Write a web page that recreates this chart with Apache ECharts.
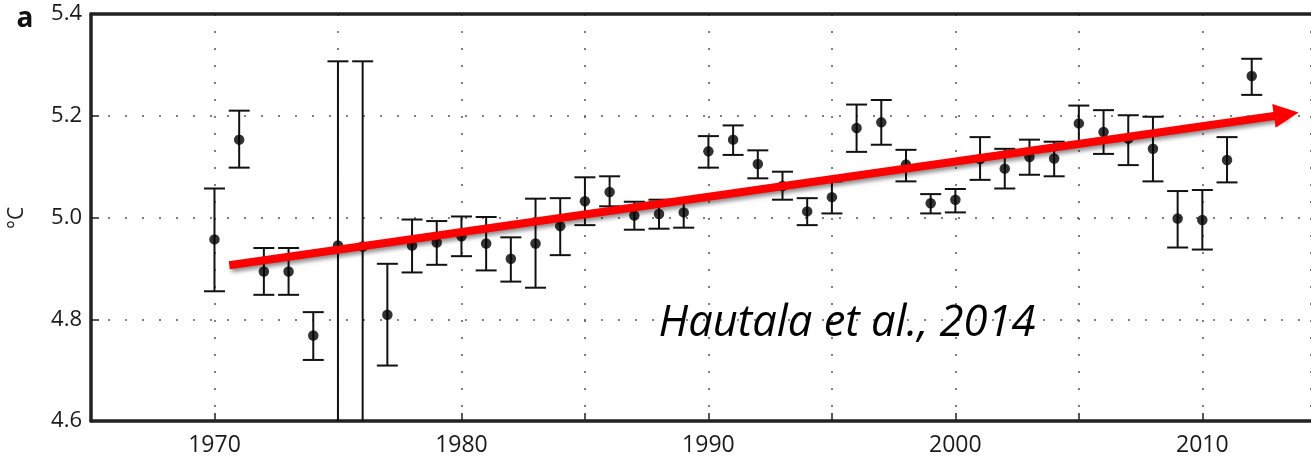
<!DOCTYPE html>
<html>
<head>
<meta charset="utf-8">
<script src="https://cdn.jsdelivr.net/npm/echarts@6/dist/echarts.min.js"></script>
<style>
html,body{margin:0;padding:0;background:#fff;}
#chart{width:1311px;height:461px;}
</style>
</head>
<body>
<div id="chart"></div>
<script>
const years = [1970,1971,1972,1973,1974,1975,1976,1977,1978,1979,1980,1981,1982,1983,1984,1985,1986,1987,1988,1989,1990,1991,1992,1993,1994,1995,1996,1997,1998,1999,2000,2001,2002,2003,2004,2005,2006,2007,2008,2009,2010,2011,2012];
const means = [4.957,5.153,4.894,4.894,4.768,4.945,4.943,4.809,4.945,4.951,4.963,4.949,4.919,4.949,4.983,5.032,5.050,5.004,5.007,5.010,5.130,5.153,5.105,5.062,5.012,5.040,5.176,5.187,5.104,5.028,5.035,5.115,5.096,5.119,5.116,5.185,5.168,5.155,5.135,4.998,4.995,5.113,5.278];
const upper = [5.057,5.210,4.940,4.940,4.814,5.307,5.307,4.909,4.996,4.993,5.002,5.001,4.961,5.037,5.038,5.079,5.081,5.031,5.035,5.035,5.160,5.181,5.132,5.090,5.038,5.071,5.222,5.231,5.133,5.046,5.056,5.158,5.135,5.153,5.149,5.220,5.211,5.201,5.198,5.052,5.054,5.158,5.312];
const lower = [4.855,5.098,4.848,4.848,4.720,4.550,4.550,4.709,4.892,4.907,4.924,4.896,4.874,4.862,4.926,4.985,5.022,4.976,4.978,4.980,5.098,5.123,5.077,5.035,4.985,5.008,5.129,5.143,5.071,5.008,5.010,5.074,5.057,5.084,5.081,5.147,5.125,5.103,5.071,4.941,4.937,5.069,5.241];
const trendYears = [1970.6, 2013.4];
const trendValues = [4.906, 5.203];
const xTicks = [1970,1980,1990,2000,2010];
const yTicks = [4.6,4.8,5.0,5.2,5.4];
const annotation = 'Hautala et al., 2014';
const yUnit = '°C';
const panelLetter = 'a';

const chart = echarts.init(document.getElementById('chart'), null, {renderer:'canvas'});
const errData = years.map((y,i)=>[y, lower[i], upper[i]]);
const ptData = years.map((y,i)=>[y, means[i]]);
const frame = {color:'#222', width:3.5};
const grid = {color:'#555', width:1.5, type:[2,15]};

const option = {
  animation:false,
  backgroundColor:'#fff',
  grid:{left:91, top:14, right:0, bottom:40},
  xAxis:[{
    type:'value', min:1965, max:2014.4, interval:5,
    axisLine:{show:true, onZero:false, lineStyle:frame},
    axisTick:{show:true, inside:true, length:8, lineStyle:{color:'#222', width:1.5}},
    axisLabel:{margin:13, color:'#1a1a1a', fontSize:23, fontFamily:'Open Sans', showMaxLabel:false,
      formatter:v=> xTicks.indexOf(v)>=0 ? String(v) : ''},
    splitLine:{show:true, lineStyle:grid}
  },{
    type:'value', position:'top', min:1965, max:2014.4, interval:5,
    axisLine:{show:true, onZero:false, lineStyle:frame},
    axisTick:{show:false}, axisLabel:{show:false}, splitLine:{show:false}
  }],
  yAxis:{
    type:'value', min:4.6, max:5.4, interval:0.2,
    axisLine:{show:true, onZero:false, lineStyle:frame},
    axisTick:{show:true, inside:true, length:8, lineStyle:{color:'#222', width:1.5}},
    axisLabel:{margin:9, color:'#1a1a1a', fontSize:22, fontFamily:'Open Sans',
      formatter:v=>{ const t = yTicks.find(k=>Math.abs(k-v)<1e-6); return t!==undefined ? t.toFixed(1) : ''; }},
    splitLine:{show:true, lineStyle:grid}
  },
  graphic:[
    {type:'text', x:25, y:19, style:{text:panelLetter, font:'bold 28px "Open Sans"', fill:'#111', textAlign:'center', textVerticalAlign:'middle'}},
    {type:'text', x:17, y:218, rotation:Math.PI/2, style:{text:yUnit, font:'21px "Open Sans"', fill:'#222', textAlign:'center', textVerticalAlign:'middle'}},
    {type:'text', x:847, y:324, z:20, style:{text:annotation, font:'italic 43.5px "Open Sans"', fill:'#000', textAlign:'center', textVerticalAlign:'middle'}}
  ],
  series:[
    {
      type:'custom', clip:true, z:2,
      data:errData,
      renderItem:(params, api)=>{
        const x = api.value(0);
        const lo = api.coord([x, api.value(1)]);
        const hi = api.coord([x, api.value(2)]);
        const hw = 10.5;
        const st = {stroke:'#111', lineWidth:2};
        return {type:'group', children:[
          {type:'line', shape:{x1:lo[0], y1:lo[1], x2:hi[0], y2:hi[1]}, style:st},
          {type:'line', shape:{x1:hi[0]-hw, y1:hi[1], x2:hi[0]+hw, y2:hi[1]}, style:st},
          {type:'line', shape:{x1:lo[0]-hw, y1:lo[1], x2:lo[0]+hw, y2:lo[1]}, style:st}
        ]};
      }
    },
    {
      type:'scatter', z:3, data:ptData, symbol:'circle', symbolSize:10.5,
      itemStyle:{color:'#000'}, silent:true
    },
    {
      type:'scatter', z:10, data:[], silent:true,
      markLine:{
        silent:true, animation:false,
        symbol:['none','triangle'], symbolSize:[24,25],
        label:{show:false},
        lineStyle:{color:'#ff0000', width:8, type:'solid', shadowColor:'rgba(0,0,0,0.45)', shadowBlur:4, shadowOffsetX:2, shadowOffsetY:3},
        itemStyle:{color:'#ff0000'},
        data:[[{coord:[trendYears[0], trendValues[0]]},{coord:[trendYears[1], trendValues[1]]}]]
      }
    }
  ]
};
chart.setOption(option);
</script>
</body>
</html>
